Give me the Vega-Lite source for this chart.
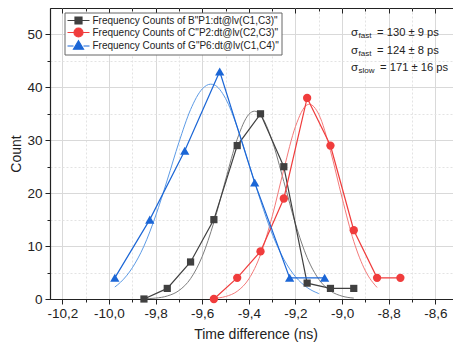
{
  "$schema": "https://vega.github.io/schema/vega-lite/v6.json",
  "width": 411,
  "height": 291,
  "autosize": "none",
  "padding": {"left": 50, "top": 8, "right": 0, "bottom": 45},
  "background": "white",
  "config": {
    "font": "Liberation Sans",
    "view": {"stroke": "#222", "strokeWidth": 1}
  },
  "datasets": {
    "pts": [
      {"series": "Frequency Counts of B\"P1:dt@lv(C1,C3)\"", "t": -9.85, "count": 0},
      {"series": "Frequency Counts of B\"P1:dt@lv(C1,C3)\"", "t": -9.75, "count": 2},
      {"series": "Frequency Counts of B\"P1:dt@lv(C1,C3)\"", "t": -9.65, "count": 7},
      {"series": "Frequency Counts of B\"P1:dt@lv(C1,C3)\"", "t": -9.55, "count": 15},
      {"series": "Frequency Counts of B\"P1:dt@lv(C1,C3)\"", "t": -9.45, "count": 29},
      {"series": "Frequency Counts of B\"P1:dt@lv(C1,C3)\"", "t": -9.35, "count": 35},
      {"series": "Frequency Counts of B\"P1:dt@lv(C1,C3)\"", "t": -9.25, "count": 25},
      {"series": "Frequency Counts of B\"P1:dt@lv(C1,C3)\"", "t": -9.15, "count": 3},
      {"series": "Frequency Counts of B\"P1:dt@lv(C1,C3)\"", "t": -9.05, "count": 2},
      {"series": "Frequency Counts of B\"P1:dt@lv(C1,C3)\"", "t": -8.95, "count": 2},
      {"series": "Frequency Counts of C\"P2:dt@lv(C2,C3)\"", "t": -9.55, "count": 0},
      {"series": "Frequency Counts of C\"P2:dt@lv(C2,C3)\"", "t": -9.45, "count": 4},
      {"series": "Frequency Counts of C\"P2:dt@lv(C2,C3)\"", "t": -9.35, "count": 9},
      {"series": "Frequency Counts of C\"P2:dt@lv(C2,C3)\"", "t": -9.25, "count": 19},
      {"series": "Frequency Counts of C\"P2:dt@lv(C2,C3)\"", "t": -9.15, "count": 38},
      {"series": "Frequency Counts of C\"P2:dt@lv(C2,C3)\"", "t": -9.05, "count": 29},
      {"series": "Frequency Counts of C\"P2:dt@lv(C2,C3)\"", "t": -8.95, "count": 13},
      {"series": "Frequency Counts of C\"P2:dt@lv(C2,C3)\"", "t": -8.85, "count": 4},
      {"series": "Frequency Counts of C\"P2:dt@lv(C2,C3)\"", "t": -8.75, "count": 4},
      {"series": "Frequency Counts of G\"P6:dt@lv(C1,C4)\"", "t": -9.975, "count": 4},
      {"series": "Frequency Counts of G\"P6:dt@lv(C1,C4)\"", "t": -9.825, "count": 15},
      {"series": "Frequency Counts of G\"P6:dt@lv(C1,C4)\"", "t": -9.675, "count": 28},
      {"series": "Frequency Counts of G\"P6:dt@lv(C1,C4)\"", "t": -9.525, "count": 43},
      {"series": "Frequency Counts of G\"P6:dt@lv(C1,C4)\"", "t": -9.375, "count": 22},
      {"series": "Frequency Counts of G\"P6:dt@lv(C1,C4)\"", "t": -9.225, "count": 4},
      {"series": "Frequency Counts of G\"P6:dt@lv(C1,C4)\"", "t": -9.075, "count": 4}
    ],
    "fit": [
      {"series": "B", "t": -9.85, "count": 0.05},
      {"series": "B", "t": -9.8, "count": 0.17},
      {"series": "B", "t": -9.75, "count": 0.57},
      {"series": "B", "t": -9.7, "count": 1.59},
      {"series": "B", "t": -9.65, "count": 3.85},
      {"series": "B", "t": -9.6, "count": 8.05},
      {"series": "B", "t": -9.55, "count": 14.5},
      {"series": "B", "t": -9.5, "count": 22.5},
      {"series": "B", "t": -9.45, "count": 30.2},
      {"series": "B", "t": -9.4, "count": 34.9},
      {"series": "B", "t": -9.376, "count": 35.5},
      {"series": "B", "t": -9.35, "count": 34.8},
      {"series": "B", "t": -9.3, "count": 29.9},
      {"series": "B", "t": -9.25, "count": 22.2},
      {"series": "B", "t": -9.2, "count": 14.2},
      {"series": "B", "t": -9.15, "count": 7.83},
      {"series": "B", "t": -9.1, "count": 3.73},
      {"series": "B", "t": -9.05, "count": 1.53},
      {"series": "B", "t": -9.0, "count": 0.54},
      {"series": "B", "t": -8.95, "count": 0.17},
      {"series": "C", "t": -9.55, "count": 0.13},
      {"series": "C", "t": -9.5, "count": 0.47},
      {"series": "C", "t": -9.45, "count": 1.46},
      {"series": "C", "t": -9.4, "count": 3.8},
      {"series": "C", "t": -9.35, "count": 8.37},
      {"series": "C", "t": -9.3, "count": 15.6},
      {"series": "C", "t": -9.25, "count": 24.5},
      {"series": "C", "t": -9.2, "count": 32.6},
      {"series": "C", "t": -9.15, "count": 36.7},
      {"series": "C", "t": -9.14, "count": 36.8},
      {"series": "C", "t": -9.1, "count": 34.9},
      {"series": "C", "t": -9.05, "count": 28.0},
      {"series": "C", "t": -9.0, "count": 19.1},
      {"series": "C", "t": -8.95, "count": 10.9},
      {"series": "C", "t": -8.9, "count": 5.31},
      {"series": "C", "t": -8.85, "count": 2.18},
      {"series": "G", "t": -9.975, "count": 2.26},
      {"series": "G", "t": -9.95, "count": 3.18},
      {"series": "G", "t": -9.9, "count": 5.89},
      {"series": "G", "t": -9.85, "count": 10.0},
      {"series": "G", "t": -9.8, "count": 15.7},
      {"series": "G", "t": -9.75, "count": 22.5},
      {"series": "G", "t": -9.7, "count": 29.6},
      {"series": "G", "t": -9.65, "count": 35.8},
      {"series": "G", "t": -9.6, "count": 39.7},
      {"series": "G", "t": -9.564, "count": 40.6},
      {"series": "G", "t": -9.55, "count": 40.5},
      {"series": "G", "t": -9.5, "count": 37.9},
      {"series": "G", "t": -9.45, "count": 32.5},
      {"series": "G", "t": -9.4, "count": 25.6},
      {"series": "G", "t": -9.35, "count": 18.6},
      {"series": "G", "t": -9.3, "count": 12.3},
      {"series": "G", "t": -9.25, "count": 7.52},
      {"series": "G", "t": -9.2, "count": 4.21},
      {"series": "G", "t": -9.15, "count": 2.17},
      {"series": "G", "t": -9.1, "count": 1.02}
    ],
    "ann": [
      {"sym": "σ", "sub": "fast", "rest": "= 130 ± 9 ps", "xs": -8.962, "xr": -8.85, "yv": 50.2},
      {"sym": "σ", "sub": "fast", "rest": "= 124 ± 8 ps", "xs": -8.962, "xr": -8.85, "yv": 46.9},
      {"sym": "σ", "sub": "slow", "rest": "= 171 ± 16 ps", "xs": -8.962, "xr": -8.837, "yv": 43.6}
    ]
  },
  "resolve": {
    "scale": {"color": "independent", "shape": "independent", "stroke": "independent", "size": "independent"},
    "axis": {"x": "independent", "y": "independent"}
  },
  "layer": [
    {
      "data": {"name": "fit"},
      "mark": {"type": "line", "interpolate": "monotone", "strokeWidth": 1},
      "encoding": {
        "x": {
          "field": "t", "type": "quantitative",
          "scale": {"domain": [-10.253, -8.49], "nice": false, "zero": false},
          "axis": {
            "orient": "bottom",
            "title": "Time difference (ns)",
            "values": [-10.2, -10.1, -10, -9.9, -9.8, -9.7, -9.6, -9.5, -9.4, -9.3, -9.2, -9.1, -9, -8.9, -8.8, -8.7, -8.6, -8.5],
            "labelExpr": "round(datum.value*10) % 2 == 0 ? (datum.value < 0 ? '-' : '') + replace(format(abs(datum.value), '.1f'), '.', ',') : ''",
            "labelOverlap": false,
            "labelFlush": false,
            "labelFontSize": 13.5,
            "labelColor": "#222",
            "labelPadding": 2,
            "tickSize": {"condition": {"test": "round(datum.value*10) % 2 == 0", "value": 5}, "value": 3},
            "tickColor": "#222",
            "domainColor": "#222",
            "domainWidth": 1.2,
            "grid": true,
            "gridColor": {"condition": {"test": "round(datum.value*10) % 2 == 0", "value": "#d9d9d9"}, "value": "#e3e3e3"},
            "gridDash": {"condition": {"test": "round(datum.value*10) % 2 == 0", "value": []}, "value": [2, 2]},
            "titleFontSize": 14,
            "titleFontWeight": "normal",
            "titleColor": "#222",
            "titlePadding": 8
          }
        },
        "y": {
          "field": "count", "type": "quantitative",
          "scale": {"domain": [0, 55], "nice": false, "zero": false},
          "axis": {
            "orient": "left",
            "title": "Count",
            "values": [0, 5, 10, 15, 20, 25, 30, 35, 40, 45, 50],
            "labelExpr": "datum.value % 10 == 0 ? datum.label : ''",
            "labelOverlap": false,
            "labelFontSize": 13.5,
            "labelColor": "#222",
            "labelPadding": 3,
            "tickSize": {"condition": {"test": "datum.value % 10 == 0", "value": 5}, "value": 3},
            "tickColor": "#222",
            "domainColor": "#222",
            "domainWidth": 1.2,
            "grid": true,
            "gridColor": {"condition": {"test": "datum.value % 10 == 0", "value": "#d9d9d9"}, "value": "#e3e3e3"},
            "gridDash": {"condition": {"test": "datum.value % 10 == 0", "value": []}, "value": [2, 2]},
            "titleFontSize": 14,
            "titleFontWeight": "normal",
            "titleColor": "#222",
            "titlePadding": 3
          }
        },
        "color": {
          "field": "series", "type": "nominal",
          "scale": {"domain": ["B", "C", "G"], "range": ["#7d7d7d", "#f47a7a", "#5d9be6"]},
          "legend": null
        }
      }
    },
    {
      "data": {"name": "pts"},
      "mark": {"type": "line", "strokeWidth": 1.2},
      "encoding": {
        "x": {
          "field": "t", "type": "quantitative",
          "scale": {"domain": [-10.253, -8.49], "nice": false, "zero": false},
          "axis": {
            "orient": "top",
            "title": null,
            "labels": false,
            "grid": false,
            "domain": false,
            "values": [-10.2, -10.1, -10, -9.9, -9.8, -9.7, -9.6, -9.5, -9.4, -9.3, -9.2, -9.1, -9, -8.9, -8.8, -8.7, -8.6, -8.5],
            "tickSize": {"condition": {"test": "round(datum.value*10) % 2 == 0", "value": -5}, "value": -3},
            "tickColor": "#222"
          }
        },
        "y": {"field": "count", "type": "quantitative", "scale": {"domain": [0, 55], "nice": false, "zero": false}, "axis": null},
        "color": {
          "field": "series", "type": "nominal",
          "scale": {
            "domain": ["Frequency Counts of B\"P1:dt@lv(C1,C3)\"", "Frequency Counts of C\"P2:dt@lv(C2,C3)\"", "Frequency Counts of G\"P6:dt@lv(C1,C4)\""],
            "range": ["#404040", "#f03c3c", "#1b66d6"]
          },
          "legend": null
        }
      }
    },
    {
      "data": {"name": "pts"},
      "mark": {"type": "point", "filled": true, "opacity": 1},
      "encoding": {
        "x": {"field": "t", "type": "quantitative", "scale": {"domain": [-10.253, -8.49], "nice": false, "zero": false}, "axis": null},
        "y": {"field": "count", "type": "quantitative", "scale": {"domain": [0, 55], "nice": false, "zero": false}, "axis": null},
        "color": {
          "field": "series", "type": "nominal",
          "scale": {
            "domain": ["Frequency Counts of B\"P1:dt@lv(C1,C3)\"", "Frequency Counts of C\"P2:dt@lv(C2,C3)\"", "Frequency Counts of G\"P6:dt@lv(C1,C4)\""],
            "range": ["#404040", "#f03c3c", "#1b66d6"]
          },
          "legend": null
        },
        "shape": {
          "field": "series", "type": "nominal",
          "scale": {
            "domain": ["Frequency Counts of B\"P1:dt@lv(C1,C3)\"", "Frequency Counts of C\"P2:dt@lv(C2,C3)\"", "Frequency Counts of G\"P6:dt@lv(C1,C4)\""],
            "range": ["square", "circle", "triangle-up"]
          },
          "legend": null
        },
        "size": {
          "field": "series", "type": "nominal",
          "scale": {
            "domain": ["Frequency Counts of B\"P1:dt@lv(C1,C3)\"", "Frequency Counts of C\"P2:dt@lv(C2,C3)\"", "Frequency Counts of G\"P6:dt@lv(C1,C4)\""],
            "range": [52, 86, 112]
          },
          "legend": null
        }
      }
    },
    {
      "data": {"name": "ann"},
      "mark": {"type": "text", "align": "left", "baseline": "middle", "fontSize": 11.5, "color": "#222"},
      "encoding": {
        "x": {"field": "xs", "type": "quantitative", "scale": {"domain": [-10.253, -8.49], "nice": false, "zero": false}, "axis": null},
        "y": {"field": "yv", "type": "quantitative", "scale": {"domain": [0, 55], "nice": false, "zero": false}, "axis": null},
        "text": {"field": "sym"}
      }
    },
    {
      "data": {"name": "ann"},
      "mark": {"type": "text", "align": "left", "baseline": "middle", "fontSize": 8, "dx": 7.5, "dy": 3, "color": "#222"},
      "encoding": {
        "x": {"field": "xs", "type": "quantitative", "scale": {"domain": [-10.253, -8.49], "nice": false, "zero": false}, "axis": null},
        "y": {"field": "yv", "type": "quantitative", "scale": {"domain": [0, 55], "nice": false, "zero": false}, "axis": null},
        "text": {"field": "sub"}
      }
    },
    {
      "data": {"name": "ann"},
      "mark": {"type": "text", "align": "left", "baseline": "middle", "fontSize": 11.2, "color": "#222"},
      "encoding": {
        "x": {"field": "xr", "type": "quantitative", "scale": {"domain": [-10.253, -8.49], "nice": false, "zero": false}, "axis": null},
        "y": {"field": "yv", "type": "quantitative", "scale": {"domain": [0, 55], "nice": false, "zero": false}, "axis": null},
        "text": {"field": "rest"}
      }
    },
    {
      "data": {"name": "pts"},
      "transform": [{"filter": "false"}],
      "mark": {"type": "point", "filled": true, "opacity": 1, "size": 100, "strokeWidth": 1.2},
      "encoding": {
        "x": {"field": "t", "type": "quantitative", "scale": {"domain": [-10.253, -8.49], "nice": false, "zero": false}, "axis": null},
        "y": {"field": "count", "type": "quantitative", "scale": {"domain": [0, 55], "nice": false, "zero": false}, "axis": null},
        "color": {
          "field": "series", "type": "nominal",
          "scale": {
            "domain": ["Frequency Counts of B\"P1:dt@lv(C1,C3)\"", "Frequency Counts of C\"P2:dt@lv(C2,C3)\"", "Frequency Counts of G\"P6:dt@lv(C1,C4)\""],
            "range": ["#404040", "#f03c3c", "#1b66d6"]
          },
          "legend": {
            "title": null,
            "orient": "none",
            "legendX": 14.5,
            "legendY": 4.5,
            "padding": 2,
            "fillColor": "#ffffff",
            "strokeColor": "#666666",
            "labelFontSize": 10,
            "labelColor": "#222",
            "labelLimit": 400,
            "labelOffset": 8,
            "symbolOffset": 6,
            "symbolSize": 100,
            "symbolStrokeWidth": 1.2,
            "symbolOpacity": 1,
            "rowPadding": -3
          }
        },
        "stroke": {
          "field": "series", "type": "nominal",
          "scale": {
            "domain": ["Frequency Counts of B\"P1:dt@lv(C1,C3)\"", "Frequency Counts of C\"P2:dt@lv(C2,C3)\"", "Frequency Counts of G\"P6:dt@lv(C1,C4)\""],
            "range": ["#404040", "#f03c3c", "#1b66d6"]
          },
          "legend": {"title": null}
        },
        "shape": {
          "field": "series", "type": "nominal",
          "scale": {
            "domain": ["Frequency Counts of B\"P1:dt@lv(C1,C3)\"", "Frequency Counts of C\"P2:dt@lv(C2,C3)\"", "Frequency Counts of G\"P6:dt@lv(C1,C4)\""],
            "range": [
              "M-2.2,0H-0.7M0.7,0H2.2M-0.7,-0.7H0.7V0.7H-0.7Z",
              "M-2.2,0H-0.9M0.9,0H2.2M-0.9,0A0.9,0.9 0 1,0 0.9,0A0.9,0.9 0 1,0 -0.9,0Z",
              "M-2.2,0.1H-1M1,0.1H2.2M0,-0.95L1,0.75H-1Z"
            ]
          },
          "legend": {"title": null}
        }
      }
    }
  ]
}
